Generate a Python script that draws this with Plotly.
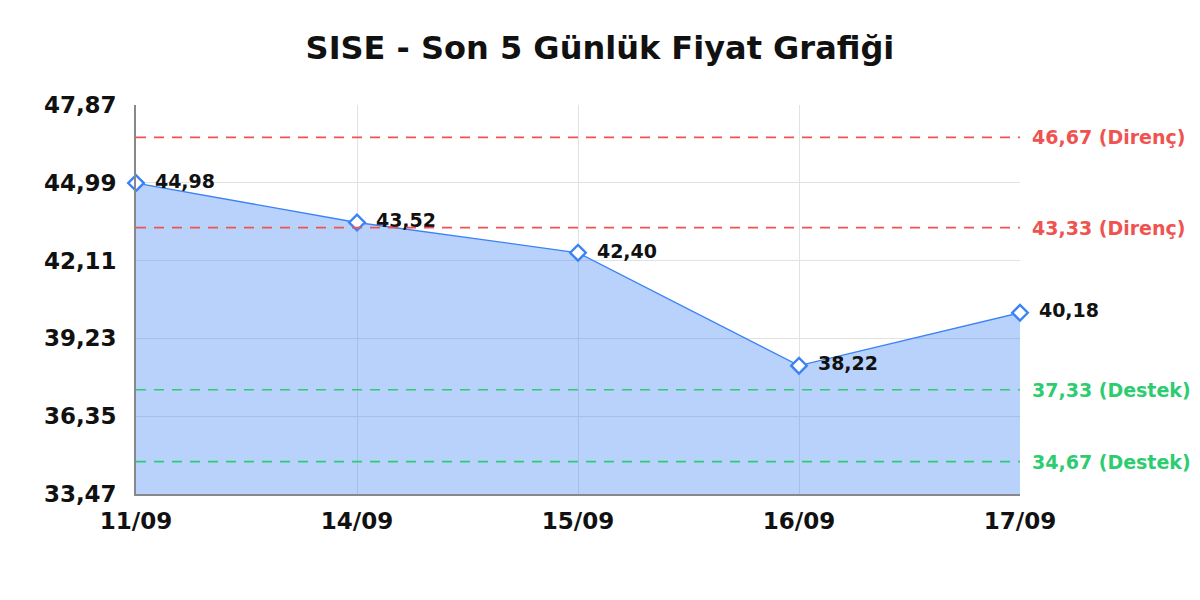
import plotly.graph_objects as go

dates = ["11/09", "14/09", "15/09", "16/09", "17/09"]
prices = [44.98, 43.52, 42.40, 38.22, 40.18]
y_ticks = [33.47, 36.35, 39.23, 42.11, 44.99, 47.87]
resistance = [46.67, 43.33]
support = [37.33, 34.67]

def tr(v):
    return f"{v:.2f}".replace(".", ",")

FONT = "DejaVu Sans"
fig = go.Figure()
fig.add_trace(go.Scatter(
    x=dates, y=prices, mode="lines+markers+text",
    fill="tozeroy", fillcolor="rgba(59,130,246,0.36)",
    line=dict(color="#3b82f6", width=1.3),
    marker=dict(symbol="diamond", size=12, color="white", line=dict(width=2.4, color="#3b82f6")),
    text=["\u2009 " + tr(v) for v in prices], textposition="middle right",
    textfont=dict(family=FONT, size=19, color="#111111", weight="bold"),
    cliponaxis=False, showlegend=False, hoverinfo="skip",
))

shapes = []
annotations = []
for lvl in resistance:
    shapes.append(dict(type="line", xref="paper", x0=0, x1=1, yref="y", y0=lvl, y1=lvl,
                       line=dict(color="#ef5350", width=1.6, dash="10px,8px")))
    annotations.append(dict(xref="paper", x=1, yref="y", y=lvl, text=f"{tr(lvl)} (Direnç)",
                            showarrow=False, xanchor="left", xshift=10,
                            font=dict(family=FONT, size=19, color="#ef5350", weight="bold")))
for lvl in support:
    shapes.append(dict(type="line", xref="paper", x0=0, x1=1, yref="y", y0=lvl, y1=lvl,
                       line=dict(color="#2ecc71", width=1.6, dash="10px,8px")))
    annotations.append(dict(xref="paper", x=1, yref="y", y=lvl, text=f"{tr(lvl)} (Destek)",
                            showarrow=False, xanchor="left", xshift=10,
                            font=dict(family=FONT, size=19, color="#2ecc71", weight="bold")))

fig.update_layout(
    width=1200, height=600,
    paper_bgcolor="white", plot_bgcolor="white",
    margin=dict(l=128, r=188, t=97, b=114),
    title=dict(text="SISE - Son 5 Günlük Fiyat Grafiği", x=0.4933, xanchor="center",
               y=0.933, yanchor="middle",
               font=dict(family=FONT, size=32, color="#111111", weight="bold")),
    shapes=shapes, annotations=annotations,
)
fig.update_xaxes(
    type="category", range=[0, 4], showgrid=True, gridcolor="#e2e2e2", gridwidth=1.2,
    showline=True, linecolor="#888888", linewidth=1.5, ticks="", ticklabelstandoff=6,
    tickfont=dict(family=FONT, size=23, color="#111111", weight="bold"),
    zeroline=False,
)
fig.update_yaxes(
    range=[y_ticks[0], y_ticks[-1]], tickvals=y_ticks, ticktext=[tr(v) for v in y_ticks],
    showgrid=True, gridcolor="#e2e2e2", gridwidth=1.2,
    showline=True, linecolor="#888888", linewidth=1.5, ticks="", ticklabelstandoff=13,
    tickfont=dict(family=FONT, size=23, color="#111111", weight="bold"),
    zeroline=False,
)
fig.write_html("out.html")
